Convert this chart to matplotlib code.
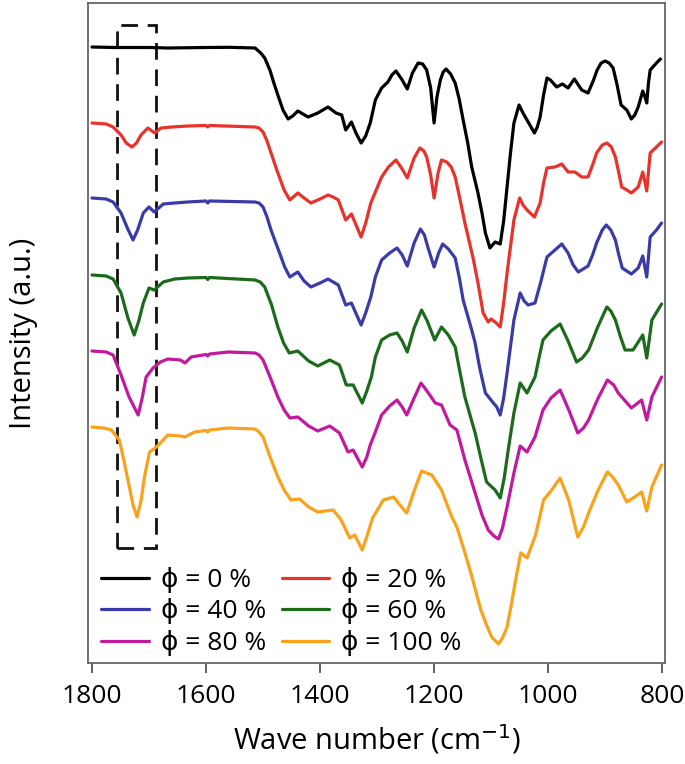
import numpy as np
import matplotlib
matplotlib.use("Agg")
import matplotlib.pyplot as plt
from matplotlib.patches import Rectangle

plt.rcParams['font.family'] = ['Open Sans', 'DejaVu Sans']

# FTIR spectra, stacked (a.u.), wave number in cm^-1
wn_0 = [1800, 1760, 1700, 1667, 1600, 1560, 1514, 1504, 1497, 1488, 1481, 1474, 1465, 1456,
        1448, 1439, 1430, 1421, 1404, 1395, 1386, 1372, 1362, 1355, 1345, 1337, 1328, 1320,
        1312, 1303, 1292, 1281, 1274, 1267, 1257, 1247, 1238, 1228, 1220, 1213, 1206, 1200,
        1195, 1189, 1184, 1179, 1171, 1163, 1156, 1149, 1141, 1134, 1123, 1116, 1110, 1102,
        1093, 1084, 1078, 1072, 1066, 1060, 1051, 1044, 1037, 1030, 1024, 1019, 1014, 1008,
        1002, 996, 985, 975, 965, 954, 941, 930, 921, 914, 907, 900, 893, 886, 879, 872,
        862, 854, 848, 842, 834, 830, 827, 824, 821, 810, 803]
I_0 = [6.16, 6.155, 6.155, 6.15, 6.155, 6.157, 6.15, 6.10, 6.05, 5.93, 5.80, 5.68, 5.53, 5.44,
       5.47, 5.52, 5.49, 5.46, 5.50, 5.53, 5.56, 5.50, 5.48, 5.33, 5.41, 5.30, 5.20, 5.27,
       5.40, 5.63, 5.75, 5.81, 5.88, 5.92, 5.84, 5.74, 5.90, 6.00, 5.99, 5.93, 5.75, 5.40,
       5.66, 5.83, 5.91, 5.94, 5.89, 5.80, 5.64, 5.43, 5.20, 4.96, 4.70, 4.50, 4.30, 4.15,
       4.21, 4.19, 4.42, 4.76, 5.10, 5.40, 5.58, 5.50, 5.43, 5.36, 5.30, 5.36, 5.46, 5.68,
       5.85, 5.83, 5.76, 5.79, 5.75, 5.84, 5.73, 5.70, 5.82, 5.93, 6.00, 6.02, 6.00, 5.95, 5.78, 5.58,
       5.53, 5.44, 5.48, 5.56, 5.72, 5.66, 5.60, 5.80, 5.93, 6.00, 6.04]

wn_20 = [1800, 1775, 1763, 1749, 1740, 1730, 1722, 1714, 1702, 1690, 1679, 1660, 1632, 1600,
         1597, 1594, 1514, 1507, 1500, 1493, 1486, 1474, 1463, 1453, 1439, 1428, 1416, 1400,
         1386, 1377, 1368, 1355, 1345, 1328, 1320, 1311, 1303, 1292, 1280, 1267, 1257, 1247,
         1235, 1225, 1218, 1213, 1206, 1200, 1193, 1187, 1178, 1170, 1163, 1155, 1146, 1132,
         1123, 1114, 1105, 1100, 1093, 1084, 1078, 1072, 1060, 1050, 1044, 1037, 1024, 1014,
         1008, 1002, 988, 976, 965, 953, 941, 930, 922, 915, 905, 897, 889, 882, 876, 871,
         862, 854, 842, 834, 827, 821, 810, 801]
I_20 = [5.40, 5.39, 5.36, 5.28, 5.20, 5.16, 5.20, 5.28, 5.35, 5.30, 5.35, 5.36, 5.37, 5.375,
        5.36, 5.375, 5.36, 5.35, 5.31, 5.22, 5.10, 4.90, 4.73, 4.63, 4.70, 4.65, 4.60, 4.64,
        4.68, 4.66, 4.63, 4.43, 4.49, 4.26, 4.40, 4.60, 4.71, 4.86, 4.96, 5.03, 4.95, 4.85,
        5.05, 5.15, 5.12, 5.06, 4.88, 4.65, 4.90, 5.03, 5.01, 4.96, 4.86, 4.65, 4.40, 4.06,
        3.80, 3.50, 3.41, 3.44, 3.41, 3.36, 3.60, 3.90, 4.43, 4.65, 4.58, 4.53, 4.46, 4.60,
        4.80, 4.95, 4.96, 4.99, 4.91, 4.91, 4.86, 4.86, 4.98, 5.10, 5.18, 5.20, 5.16, 5.06, 4.90, 4.76,
        4.73, 4.70, 4.76, 4.91, 4.72, 5.10, 5.16, 5.21]

wn_40 = [1800, 1775, 1763, 1749, 1738, 1728, 1720, 1710, 1700, 1691, 1675, 1655, 1632, 1600,
         1597, 1594, 1514, 1507, 1500, 1493, 1486, 1471, 1462, 1453, 1439, 1428, 1416, 1400,
         1386, 1377, 1368, 1355, 1345, 1328, 1320, 1311, 1303, 1292, 1278, 1265, 1256, 1247,
         1235, 1224, 1217, 1211, 1200, 1192, 1185, 1175, 1163, 1156, 1149, 1134, 1128, 1120,
         1110, 1096, 1090, 1084, 1078, 1072, 1060, 1049, 1042, 1035, 1023, 1012, 1002, 988,
         976, 965, 956, 947, 930, 922, 915, 905, 898, 890, 882, 876, 870, 854, 842, 834,
         827, 821, 810, 801]
I_40 = [4.65, 4.64, 4.61, 4.50, 4.35, 4.23, 4.33, 4.50, 4.56, 4.51, 4.59, 4.60, 4.61, 4.62,
        4.60, 4.62, 4.61, 4.60, 4.56, 4.46, 4.33, 4.10, 3.96, 3.86, 3.91, 3.82, 3.76, 3.80,
        3.84, 3.81, 3.78, 3.58, 3.60, 3.38, 3.50, 3.66, 3.86, 4.03, 4.10, 4.15, 4.08, 3.97,
        4.20, 4.34, 4.28, 4.16, 3.96, 4.10, 4.19, 4.14, 4.05, 3.86, 3.63, 3.33, 3.20, 2.95,
        2.70, 2.60, 2.56, 2.48, 2.65, 2.90, 3.43, 3.70, 3.62, 3.58, 3.60, 3.83, 4.06, 4.13,
        4.19, 4.10, 3.98, 3.91, 3.97, 4.08, 4.20, 4.33, 4.38, 4.33, 4.23, 4.08, 3.95, 3.89, 3.95, 4.07,
        3.86, 4.26, 4.33, 4.40]

wn_60 = [1800, 1775, 1763, 1749, 1737, 1726, 1718, 1710, 1700, 1691, 1675, 1655, 1632, 1600,
         1597, 1594, 1514, 1505, 1497, 1485, 1474, 1464, 1454, 1439, 1420, 1404, 1383, 1366,
         1354, 1342, 1326, 1318, 1310, 1303, 1292, 1278, 1265, 1256, 1247, 1235, 1222, 1212,
         1199, 1187, 1175, 1163, 1155, 1146, 1128, 1118, 1108, 1093, 1084, 1077, 1070, 1060,
         1049, 1037, 1023, 1016, 1009, 995, 979, 965, 950, 940, 929, 913, 897, 890, 882, 873,
         865, 851, 834, 827, 818, 801]
I_60 = [3.88, 3.87, 3.84, 3.70, 3.45, 3.28, 3.42, 3.60, 3.75, 3.73, 3.81, 3.84, 3.85, 3.855,
        3.835, 3.855, 3.83, 3.81, 3.76, 3.58, 3.36, 3.20, 3.10, 3.12, 3.02, 2.97, 3.03, 2.98,
        2.78, 2.78, 2.60, 2.72, 2.86, 3.06, 3.23, 3.28, 3.30, 3.22, 3.11, 3.35, 3.53, 3.42,
        3.23, 3.36, 3.28, 3.16, 2.92, 2.66, 2.30, 2.05, 1.81, 1.73, 1.65, 1.85, 2.13, 2.50,
        2.80, 2.70, 2.86, 3.05, 3.23, 3.32, 3.39, 3.22, 3.01, 3.05, 3.13, 3.36, 3.56, 3.52, 3.43, 3.26,
        3.13, 3.13, 3.28, 3.05, 3.43, 3.59]

wn_80 = [1800, 1775, 1763, 1749, 1735, 1719, 1712, 1705, 1693, 1680, 1667, 1645, 1637, 1626,
         1600, 1597, 1594, 1561, 1514, 1507, 1500, 1487, 1474, 1463, 1453, 1439, 1420, 1404,
         1383, 1366, 1351, 1342, 1326, 1318, 1312, 1303, 1292, 1278, 1265, 1256, 1248, 1235,
         1223, 1210, 1198, 1187, 1172, 1160, 1146, 1128, 1116, 1105, 1095, 1087, 1080, 1072,
         1060, 1049, 1037, 1023, 1009, 995, 979, 963, 948, 938, 929, 913, 896, 885, 877, 854,
         836, 827, 818, 801]
I_80 = [3.12, 3.11, 3.08, 2.88, 2.66, 2.48, 2.65, 2.86, 2.95, 3.01, 3.04, 3.03, 3.00, 3.06,
        3.085, 3.07, 3.09, 3.11, 3.10, 3.08, 3.03, 2.85, 2.66, 2.53, 2.45, 2.46, 2.37, 2.32,
        2.37, 2.30, 2.11, 2.13, 1.96, 2.06, 2.18, 2.31, 2.48, 2.57, 2.63, 2.56, 2.48, 2.65,
        2.80, 2.70, 2.60, 2.58, 2.38, 2.33, 2.03, 1.70, 1.48, 1.33, 1.27, 1.24, 1.35, 1.56,
        1.90, 2.17, 2.11, 2.26, 2.53, 2.65, 2.73, 2.52, 2.30, 2.35, 2.43, 2.64, 2.83, 2.78, 2.70, 2.55,
        2.63, 2.43, 2.66, 2.86]

wn_100 = [1800, 1780, 1766, 1752, 1745, 1737, 1728, 1721, 1714, 1708, 1699, 1687, 1667, 1645,
          1637, 1620, 1600, 1597, 1594, 1561, 1514, 1507, 1500, 1487, 1474, 1462, 1451, 1436,
          1420, 1404, 1377, 1363, 1348, 1339, 1326, 1317, 1308, 1289, 1271, 1260, 1248, 1235,
          1222, 1204, 1187, 1169, 1160, 1148, 1137, 1118, 1108, 1099, 1087, 1080, 1072, 1064,
          1057, 1048, 1037, 1022, 1008, 995, 979, 964, 948, 938, 929, 913, 896, 887, 877, 862,
          848, 836, 827, 818, 801]
I_100 = [2.36, 2.35, 2.33, 2.23, 2.05, 1.83, 1.58, 1.46, 1.62, 1.86, 2.11, 2.16, 2.28, 2.27,
         2.26, 2.31, 2.325, 2.31, 2.33, 2.35, 2.34, 2.31, 2.26, 2.05, 1.86, 1.72, 1.63, 1.64,
         1.56, 1.51, 1.53, 1.43, 1.25, 1.28, 1.13, 1.28, 1.45, 1.63, 1.66, 1.58, 1.50, 1.72,
         1.92, 1.88, 1.73, 1.46, 1.36, 1.14, 0.93, 0.53, 0.38, 0.26, 0.19, 0.25, 0.36, 0.60,
         0.83, 1.10, 1.05, 1.28, 1.63, 1.72, 1.85, 1.63, 1.26, 1.36, 1.50, 1.72, 1.91, 1.86, 1.78, 1.61,
         1.66, 1.71, 1.52, 1.76, 1.98]

labels = ["\u03d5 = 0 %", "\u03d5 = 20 %", "\u03d5 = 40 %",
          "\u03d5 = 60 %", "\u03d5 = 80 %", "\u03d5 = 100 %"]
colors = ["#000000", "#e8322c", "#3b3ba8", "#1c6b1c", "#c21a9e", "#f9a21c"]

# highlighted C=O region (dashed box)
box_wn = (1757, 1688)
box_I = (1.15, 6.38)

fig = plt.figure(figsize=(6.85, 7.64), dpi=100)
ax = fig.add_axes([88/685, 1 - 663/764, 577/685, 660/764])

spectra = [(wn_0, I_0), (wn_20, I_20), (wn_40, I_40),
           (wn_60, I_60), (wn_80, I_80), (wn_100, I_100)]
lines = []
for (w, I), c, lab in zip(spectra, colors, labels):
    ln, = ax.plot(w, I, color=c, lw=2.3, label=lab,
                  solid_joinstyle="round", solid_capstyle="round")
    lines.append(ln)

ax.add_patch(Rectangle((box_wn[0], box_I[0]), box_wn[1] - box_wn[0], box_I[1] - box_I[0],
                       fill=False, edgecolor="#111111", lw=2.0, linestyle=(0, (6, 3.5))))

ax.set_xlim(1807, 795)
ax.set_ylim(0, 6.6)
ax.set_xticks([1800, 1600, 1400, 1200, 1000, 800])
ax.set_yticks([])
ax.tick_params(axis="x", direction="out", length=7, width=1.3, color="#555555",
               labelsize=19, pad=8)
for s in ax.spines.values():
    s.set_color("#666666")
    s.set_linewidth(1.3)

ax.set_xlabel("Wave number (cm$^{-1}$)", fontsize=21, labelpad=10)
ax.set_ylabel("Intensity (a.u.)", fontsize=21)
ax.yaxis.set_label_coords(-0.087, 0.5)

order = [0, 2, 4, 1, 3, 5]
ax.legend([lines[i] for i in order], [labels[i] for i in order], ncol=2,
          loc="lower left", bbox_to_anchor=(0.0, -0.009), frameon=False,
          fontsize=19, handlelength=1.8, handletextpad=0.45, columnspacing=0.6,
          labelspacing=0.2, borderpad=0.0)

fig.savefig("out.png", dpi=100)
